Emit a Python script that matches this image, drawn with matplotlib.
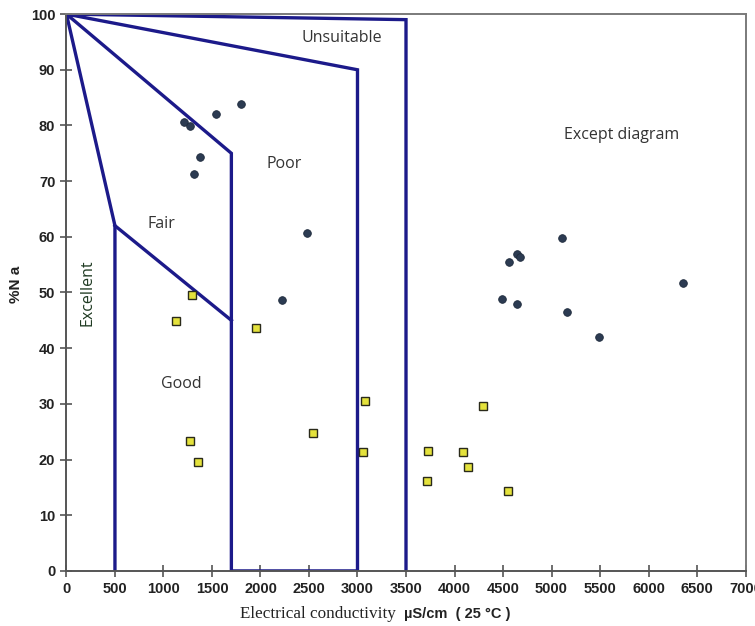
import matplotlib
matplotlib.use("Agg")
import matplotlib.pyplot as plt

# Classification boundaries (Wilcox-type diagram)
excellent_x = [0, 500, 500]
excellent_y = [100, 62, 0]
fair_low_x = [500, 1700]
fair_low_y = [62, 45]
poor_x = [0, 1700, 1700, 3000, 3000, 0]
poor_y = [100, 75, 0, 0, 90, 100]
unsuit_x = [0, 3500, 3500]
unsuit_y = [100, 99, 0]

# Samples (circles)
circ_ec = [1211, 1273, 1541, 1799, 1376, 1314, 2479, 2221, 4487, 4647,
           5155, 5487, 5106, 4641, 4676, 4566, 6353]
circ_na = [80.6, 79.9, 82.0, 83.8, 74.3, 71.3, 60.7, 48.7, 48.8, 47.9,
           46.5, 42.0, 59.7, 56.9, 56.3, 55.4, 51.7]

# Samples (squares)
sq_ec = [1294, 1126, 1951, 3078, 2545, 3060, 1270, 1359, 4294, 3730,
         4091, 4143, 3713, 4552]
sq_na = [49.6, 44.8, 43.7, 30.5, 24.8, 21.4, 23.3, 19.5, 29.6, 21.5,
         21.3, 18.7, 16.1, 14.4]

xticks = list(range(0, 7001, 500))
yticks = list(range(0, 101, 10))

fig = plt.figure(figsize=(7.55, 6.26), dpi=100)
ax = fig.add_axes([0.088, 0.088, 0.8995, 0.8895])

line_col = "#1c1a8a"
lw = 2.4
for xs, ys in [(excellent_x, excellent_y), (fair_low_x, fair_low_y),
               (poor_x, poor_y), (unsuit_x, unsuit_y)]:
    ax.plot(xs, ys, color=line_col, lw=lw, solid_joinstyle="miter", zorder=2)

ax.plot(circ_ec, circ_na, linestyle="none", marker="o", ms=5.5,
        mfc="#2c3b52", mec="#1e2a3c", mew=0.6, zorder=3)
ax.plot(sq_ec, sq_na, linestyle="none", marker="s", ms=5.5,
        mfc="#e4e23c", mec="#2a2a1a", mew=1.0, zorder=3)

ax.set_xlim(0, 7000)
ax.set_ylim(0, 100)
ax.set_xticks(xticks)
ax.set_yticks(yticks)
ax.tick_params(direction="inout", length=8, width=1.2, color="#555555",
               labelsize=10.5, pad=4)
for lab in ax.get_xticklabels() + ax.get_yticklabels():
    lab.set_fontweight("bold")
    lab.set_family("Liberation Sans")
    lab.set_color("#222222")
for s in ax.spines.values():
    s.set_color("#7a7a7a")
    s.set_linewidth(1.4)
ax.spines["left"].set_color("#555555")
ax.spines["bottom"].set_color("#555555")

tf = dict(family="Open Sans", fontsize=11.5, color="#333333")
ax.text(2840, 95.7, "Unsuitable", ha="center", va="center", **tf)
ax.text(2245, 73.0, "Poor", ha="center", va="center", **tf)
ax.text(5720, 78.3, "Except diagram", ha="center", va="center", **tf)
ax.text(975, 62.3, "Fair", ha="center", va="center", **tf)
ax.text(1181, 33.6, "Good", ha="center", va="center", **tf)
ax.text(222, 50.0, "Excellent", ha="center", va="center", rotation=90,
        family="Open Sans", fontsize=11.5, color="#1f3a22")

fig.text(0.021, 0.546, "%N a", rotation=90, ha="center", va="center",
         family="Liberation Sans", fontweight="bold", fontsize=11,
         color="#222222")
fig.text(0.318, 0.019, "Electrical conductivity", ha="left", va="center",
         family="Liberation Serif", fontsize=12.3, color="#222222")
fig.text(0.535, 0.019, "µS/cm  ( 25 °C )", ha="left", va="center",
         family="Liberation Sans", fontweight="bold", fontsize=10.5,
         color="#222222")

fig.savefig("out.png", dpi=100)
